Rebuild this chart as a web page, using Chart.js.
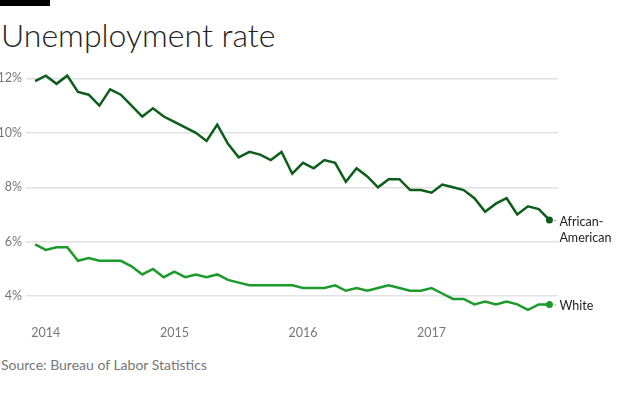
<!DOCTYPE html>
<html>
<head>
<meta charset="utf-8">
<script src="https://cdn.jsdelivr.net/npm/chart.js@4"></script>
<style>
  body { margin: 0; width: 620px; height: 396px; background: #fff; position: relative; overflow: hidden; font-family: Lato, "Open Sans", sans-serif; }
  #bar { position: absolute; left: 0; top: 0; width: 50px; height: 6px; background: #000; }
  #title { position: absolute; left: 1px; top: 15px; font-size: 32px; font-weight: 300; color: #222; white-space: nowrap; }
  #wrap { position: absolute; left: 0; top: 56px; width: 620px; height: 291px; }
  #source { position: absolute; left: 1px; top: 356px; font-size: 14px; color: #777; white-space: nowrap; }
</style>
</head>
<body>
<div id="bar"></div>
<div id="title">Unemployment rate</div>
<div id="wrap"><canvas id="myChart"></canvas></div>
<div id="source">Source: Bureau of Labor Statistics</div>
<script>
// monthly, Dec 2013 .. Dec 2017
const startYear = 2013;
const startMonth = 11;
const africanAmerican = [11.9, 12.1, 11.8, 12.1, 11.5, 11.4, 11.0, 11.6, 11.4, 11.0, 10.6, 10.9,
  10.6, 10.4, 10.2, 10.0, 9.7, 10.3, 9.6, 9.1, 9.3, 9.2, 9.0, 9.3,
  8.5, 8.9, 8.7, 9.0, 8.9, 8.2, 8.7, 8.4, 8.0, 8.3, 8.3, 7.9,
  7.9, 7.8, 8.1, 8.0, 7.9, 7.6, 7.1, 7.4, 7.6, 7.0, 7.3, 7.2, 6.8];
const white = [5.9, 5.7, 5.8, 5.8, 5.3, 5.4, 5.3, 5.3, 5.3, 5.1, 4.8, 5.0,
  4.7, 4.9, 4.7, 4.8, 4.7, 4.8, 4.6, 4.5, 4.4, 4.4, 4.4, 4.4,
  4.4, 4.3, 4.3, 4.3, 4.4, 4.2, 4.3, 4.2, 4.3, 4.4, 4.3, 4.2,
  4.2, 4.3, 4.1, 3.9, 3.9, 3.7, 3.8, 3.7, 3.8, 3.7, 3.5, 3.7, 3.7];
const yearLabels = ['2014', '2015', '2016', '2017'];
const yTicks = [4, 6, 8, 10, 12];

// month labels for the x axis
const months = africanAmerican.map((v, i) => {
  const m = startMonth + i;
  return { year: startYear + Math.floor(m / 12), month: m % 12 };
});
// x tick positions = January of each labelled year
const yearTickPos = yearLabels.map(y => months.findIndex(d => d.year == +y && d.month == 0));

const darkGreen = '#0d5e1a';
const lightGreen = '#1c9a2b';

// end-of-line labels
const endLabels = {
  id: 'endLabels',
  afterDatasetsDraw(chart) {
    const ctx = chart.ctx;
    const names = [['African-', 'American'], ['White']];
    chart.data.datasets.forEach((ds, i) => {
      const meta = chart.getDatasetMeta(i);
      const pt = meta.data[meta.data.length - 1];
      ctx.save();
      ctx.strokeStyle = '#bbb';
      ctx.lineWidth = 1;
      ctx.beginPath();
      ctx.moveTo(pt.x + 4, pt.y + 0.5);
      ctx.lineTo(pt.x + 7, pt.y + 0.5);
      ctx.stroke();
      ctx.fillStyle = '#222';
      ctx.font = '12.5px Lato, sans-serif';
      ctx.textBaseline = 'middle';
      names[i].forEach((t, j) => {
        ctx.fillText(t, pt.x + 10, pt.y + 2 + j * 16);
      });
      ctx.restore();
    });
  }
};

const context = document.getElementById('myChart').getContext('2d');
const myChart = new Chart(context, {
  type: 'line',
  data: {
    datasets: [
      {
        label: 'African-American',
        data: africanAmerican.map((v, i) => ({ x: i, y: v })),
        borderColor: darkGreen,
        backgroundColor: darkGreen,
        borderWidth: 2.5,
        tension: 0,
        pointRadius: africanAmerican.map((v, i) => i == africanAmerican.length - 1 ? 3.5 : 0),
        pointBorderWidth: 0
      },
      {
        label: 'White',
        data: white.map((v, i) => ({ x: i, y: v })),
        borderColor: lightGreen,
        backgroundColor: lightGreen,
        borderWidth: 2.5,
        tension: 0,
        pointRadius: white.map((v, i) => i == white.length - 1 ? 3.5 : 0),
        pointBorderWidth: 0
      }
    ]
  },
  options: {
    responsive: true,
    maintainAspectRatio: false,
    animation: false,
    layout: { padding: { left: 0, right: 62, top: 8, bottom: 0 } },
    scales: {
      x: {
        type: 'linear',
        min: -0.85,
        max: 48.8,
        grid: { display: false, drawTicks: false, tickLength: 0 },
        border: { display: false },
        afterBuildTicks: axis => { axis.ticks = yearTickPos.map(v => ({ value: v })); },
        ticks: {
          padding: 7,
          color: '#777',
          font: { family: 'Lato', size: 12.5 },
          maxRotation: 0,
          callback: (v) => yearLabels[yearTickPos.indexOf(v)]
        }
      },
      y: {
        min: 3.2,
        max: 12.4,
        border: { display: false },
        grid: { color: '#e2e2e2', lineWidth: 1.5, drawTicks: false },
        afterBuildTicks: axis => { axis.ticks = yTicks.map(v => ({ value: v })); },
        afterFit: axis => { axis.width = 26; },
        ticks: {
          padding: 4,
          color: '#777',
          font: { family: 'Lato', size: 12.5 },
          callback: v => v + '%'
        }
      }
    },
    plugins: {
      legend: { display: false },
      tooltip: { enabled: false }
    }
  },
  plugins: [endLabels]
});
</script>
</body>
</html>
